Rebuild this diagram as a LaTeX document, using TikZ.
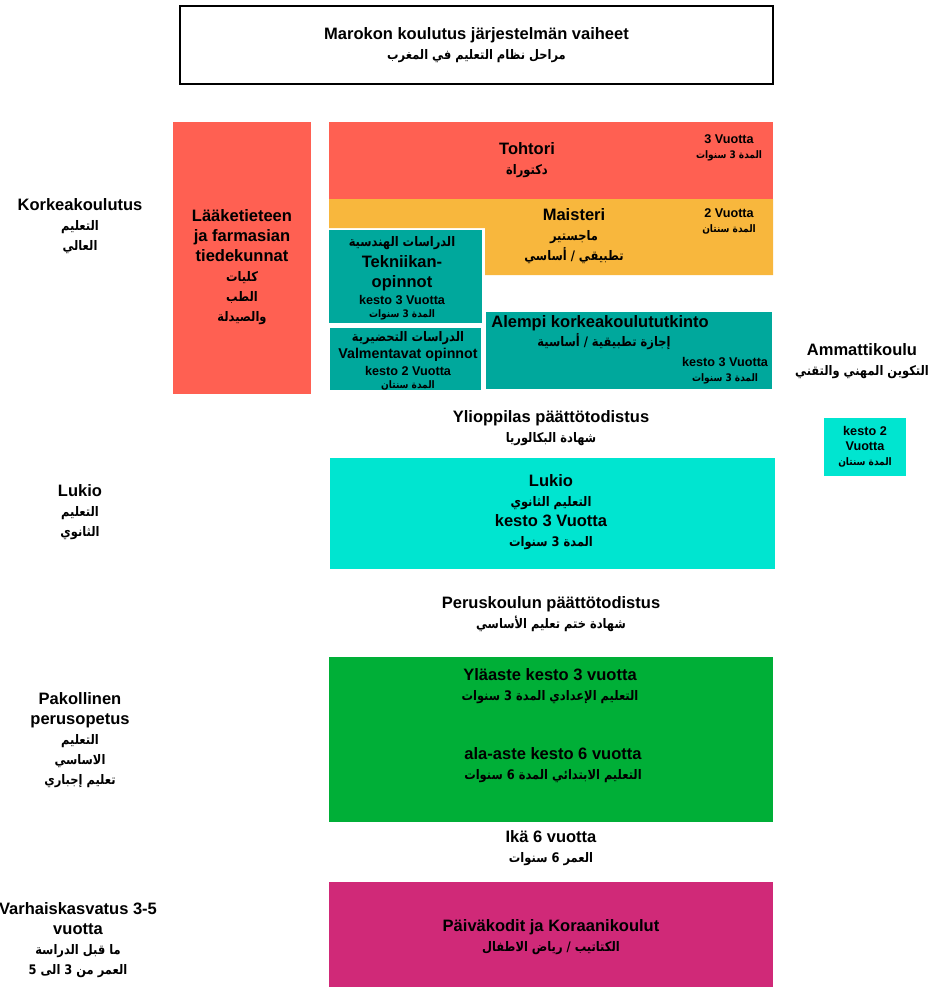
\documentclass[tikz,border=0pt]{standalone}
\usepackage{fontspec}
\setmainfont{Liberation Sans}
\newfontfamily\arabicfont[Script=Arabic, FakeStretch=0.87]{DejaVu Sans}
\TeXXeTstate=1
\newcommand{\arb}[1]{{\arabicfont\fontsize{7.5}{9}\selectfont\beginR #1\endR}}
\newcommand{\arbs}[1]{{\arabicfont\fontsize{5.9}{7}\selectfont\beginR #1\endR}}
\definecolor{drRed}{RGB}{255,96,82}
\definecolor{msYellow}{RGB}{248,183,61}
\definecolor{tekTeal}{RGB}{0,168,156}
\definecolor{lukioCyan}{RGB}{0,229,208}
\definecolor{perusGreen}{RGB}{0,175,55}
\definecolor{paivaMagenta}{RGB}{208,41,120}

\begin{document}
\begin{tikzpicture}[
    x=0.02cm, y=-0.02cm,
    txt/.style={align=center, inner sep=0pt, font=\bfseries\fontsize{9.4}{11.3}\selectfont},
    sml/.style={align=center, inner sep=0pt, font=\bfseries\fontsize{7.2}{8.6}\selectfont}
  ]
    \useasboundingbox (0,0) rectangle (928,987);

    % title
    \node[txt, draw=black, line width=1.1pt, minimum width=11.86cm, minimum height=1.56cm] (title) at (476.5,45)
      {Marokon koulutus järjestelmän vaiheet\\ \arb{مراحل نظام التعليم في المغرب}};

    % coloured blocks
    \fill[drRed] (173,122) rectangle (311,394);
    \fill[drRed] (329,122) rectangle (773,199);
    \fill[msYellow] (329,199) -- (773,199) -- (773,275) -- (485,275) -- (485,228) -- (329,228) -- cycle;
    \fill[tekTeal] (329,230) rectangle (482,323);
    \fill[tekTeal] (330,328) rectangle (481,390);
    \fill[tekTeal] (486,312) rectangle (772,389);
    \fill[lukioCyan] (824,418) rectangle (906,476);
    \fill[lukioCyan] (330,458) rectangle (775,569);
    \fill[perusGreen] (329,657) rectangle (773,822);
    \fill[paivaMagenta] (329,882) rectangle (773,987);

    % higher education
    \node[txt] (tohtori) at (527,160) {Tohtori\\ \arb{دكتوراة}};
    \node[sml] (tohtoriKesto) at (729,148) {3 Vuotta\\ \arbs{المدة 3 سنوات}};
    \node[txt] (maisteri) at (574,236) {Maisteri\\ \arb{ماجستير}\\ \arb{تطبيقي / أساسي}};
    \node[sml] (maisteriKesto) at (729,221) {2 Vuotta\\ \arbs{المدة سنتان}};
    \node[txt] (laake) at (242,267) {Lääketieteen\\ja farmasian\\tiedekunnat\\ \arb{كليات}\\ \arb{الطب}\\ \arb{والصيدلة}};
    \node[txt] (tekAr) at (402,243) {\arb{الدراسات الهندسية}};
    \node[txt] (tekniikka) at (402,273) {Tekniikan-\\opinnot};
    \node[sml] (tekKesto) at (402,300) {kesto 3 Vuotta};
    \node[sml] (tekKestoAr) at (402,315) {\arbs{المدة 3 سنوات}};
    \node[txt] (valmAr) at (408,338) {\arb{الدراسات التحضيرية}};
    \node[sml, font=\bfseries\fontsize{8.1}{9}\selectfont] (valmentavat) at (408,355) {Valmentavat opinnot};
    \node[sml] (valmKesto) at (408,371) {kesto 2 Vuotta};
    \node[sml] (valmKestoAr) at (408,385) {\arbs{المدة سنتان}};
    \node[txt, anchor=west] (alempi) at (491,323) {Alempi korkeakoulututkinto};
    \node[txt] (alempiAr) at (604,342) {\arb{إجازة تطبيقية / أساسية}};
    \node[sml] (alempiKesto) at (725,371) {kesto 3 Vuotta\\ \arbs{المدة 3 سنوات}};
    \node[txt] (ammatti) at (862,361) {Ammattikoulu\\ \arb{التكوين المهني والتقني}};
    \node[sml] (ammattiKesto) at (865,447) {kesto 2\\Vuotta\\ \arbs{المدة سنتان}};
    \node[txt] (korkea) at (80,226) {Korkeakoulutus\\ \arb{التعليم}\\ \arb{العالي}};

    % upper secondary
    \node[txt] (ylioppilas) at (551,428) {Ylioppilas päättötodistus\\ \arb{شهادة البكالوريا}};
    \node[txt] (lukio) at (551,512) {Lukio\\ \arb{التعليم الثانوي}\\kesto 3 Vuotta\\ \arb{المدة 3 سنوات}};
    \node[txt] (lukioLbl) at (80,512) {Lukio\\ \arb{التعليم}\\ \arb{الثانوي}};

    % basic education
    \node[txt] (perus) at (551,614) {Peruskoulun päättötodistus\\ \arb{شهادة ختم تعليم الأساسي}};
    \node[txt] (ylaaste) at (550,686) {Yläaste kesto 3 vuotta\\ \arb{التعليم الإعدادي المدة 3 سنوات}};
    \node[txt] (alaaste) at (553,765) {ala-aste kesto 6 vuotta\\ \arb{التعليم الابتدائي المدة 6 سنوات}};
    \node[txt] (pakollinen) at (80,740) {Pakollinen\\perusopetus\\ \arb{التعليم}\\ \arb{الاساسي}\\ \arb{تعليم إجباري}};
    \node[txt] (ika) at (551,848) {Ikä 6 vuotta\\ \arb{العمر 6 سنوات}};

    % early childhood
    \node[txt] (paiva) at (551,937) {Päiväkodit ja Koraanikoulut\\ \arb{الكتاتيب / رياض الاطفال}};
    \node[txt] (varhais) at (78,940) {Varhaiskasvatus 3-5\\vuotta\\ \arb{ما قبل الدراسة}\\ \arb{العمر من 3 الى 5}};
  \end{tikzpicture}
\end{document}
